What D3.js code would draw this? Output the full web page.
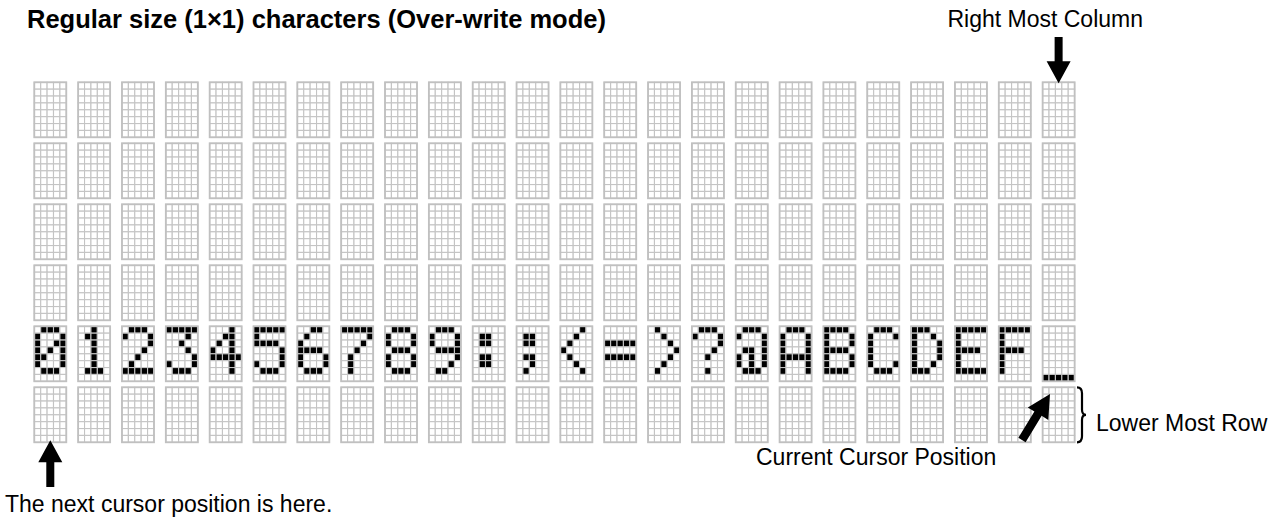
<!DOCTYPE html>
<html>
<head>
<meta charset="utf-8">
<script src="https://cdn.jsdelivr.net/npm/d3@7"></script>
<style>
  html, body { margin: 0; padding: 0; background: #ffffff; }
  svg { display: block; }
  text { font-family: "Liberation Sans", Arial, Helvetica, sans-serif; fill: #000; }
</style>
</head>
<body>
<svg id="chart" width="1288" height="519"></svg>
<script>
// ---- data ----
const titleText = "Regular size (1\u00d71) characters (Over-write mode)";
const numCols = 24;
const numRows = 6;
const charRow = 4;                 // row holding the written characters
const characters = ["0","1","2","3","4","5","6","7","8","9",":",";","<","=",">","?","@","A","B","C","D","E","F"];
// 5x7 glyph bitmaps (one hex value per dot row, 5 bits wide)
const glyphs = {
  "0": [0x0E,0x11,0x13,0x15,0x19,0x11,0x0E],
  "1": [0x04,0x0C,0x04,0x04,0x04,0x04,0x0E],
  "2": [0x0E,0x11,0x01,0x02,0x04,0x08,0x1F],
  "3": [0x1F,0x02,0x04,0x02,0x01,0x11,0x0E],
  "4": [0x02,0x06,0x0A,0x12,0x1F,0x02,0x02],
  "5": [0x1F,0x10,0x1E,0x01,0x01,0x11,0x0E],
  "6": [0x06,0x08,0x10,0x1E,0x11,0x11,0x0E],
  "7": [0x1F,0x01,0x02,0x04,0x08,0x08,0x08],
  "8": [0x0E,0x11,0x11,0x0E,0x11,0x11,0x0E],
  "9": [0x0E,0x11,0x11,0x0F,0x01,0x02,0x0C],
  ":": [0x00,0x0C,0x0C,0x00,0x0C,0x0C,0x00],
  ";": [0x00,0x0C,0x0C,0x00,0x0C,0x04,0x08],
  "<": [0x02,0x04,0x08,0x10,0x08,0x04,0x02],
  "=": [0x00,0x00,0x1F,0x00,0x1F,0x00,0x00],
  ">": [0x08,0x04,0x02,0x01,0x02,0x04,0x08],
  "?": [0x0E,0x11,0x01,0x02,0x04,0x00,0x04],
  "@": [0x0E,0x11,0x01,0x0D,0x15,0x15,0x0E],
  "A": [0x0E,0x11,0x11,0x11,0x1F,0x11,0x11],
  "B": [0x1E,0x11,0x11,0x1E,0x11,0x11,0x1E],
  "C": [0x0E,0x11,0x10,0x10,0x10,0x11,0x0E],
  "D": [0x1C,0x12,0x11,0x11,0x11,0x12,0x1C],
  "E": [0x1F,0x10,0x10,0x1E,0x10,0x10,0x1F],
  "F": [0x1F,0x10,0x10,0x1E,0x10,0x10,0x10]
};
const cursorCol = 23;              // current cursor position column (underscore)
const cursorGlyph = [0x00,0x00,0x00,0x00,0x00,0x00,0x00,0x1F];
const dotCols = 5;
const dotRows = 8;
const labels = {
  right: "Right Most Column",
  lower: "Lower Most Row",
  cursor: "Current Cursor Position",
  next: "The next cursor position is here."
};

// ---- layout ----
const svg = d3.select("#chart");
const cellW = 32, cellH = 55, pitchX = 43.84, pitchY = 61;
const x0 = 34.3, y0 = 82.3;
const x = d3.scaleBand().domain(d3.range(numCols))
  .range([x0, x0 + (numCols - 1) * pitchX + cellW])
  .paddingInner(1 - cellW / pitchX).paddingOuter(0).align(0);
const y = d3.scaleBand().domain(d3.range(numRows))
  .range([y0, y0 + (numRows - 1) * pitchY + cellH])
  .paddingInner(1 - cellH / pitchY).paddingOuter(0).align(0);
const dx = d3.scaleBand().domain(d3.range(dotCols)).range([0, x.bandwidth()]);
const dy = d3.scaleBand().domain(d3.range(dotRows)).range([0, y.bandwidth()]);

// cells
const cells = [];
for (let r = 0; r < numRows; r++) for (let c = 0; c < numCols; c++) {
  let bits = null;
  if (r === charRow && c < characters.length) bits = glyphs[characters[c]];
  if (r === charRow && c === cursorCol) bits = cursorGlyph;
  cells.push({ r, c, bits });
}

const g = svg.append("g");
const cell = g.selectAll("g.cell").data(cells).join("g")
  .attr("class", "cell")
  .attr("transform", d => `translate(${x(d.c)},${y(d.r)})`);

cell.each(function(d) {
  const dots = [];
  for (let rr = 0; rr < dotRows; rr++) for (let cc = 0; cc < dotCols; cc++) {
    const on = d.bits && d.bits[rr] !== undefined && ((d.bits[rr] >> (dotCols - 1 - cc)) & 1);
    dots.push({ rr, cc, on });
  }
  d3.select(this).selectAll("rect.dot").data(dots).join("rect")
    .attr("class", "dot")
    .attr("x", p => dx(p.cc))
    .attr("y", p => dy(p.rr))
    .attr("width", dx.bandwidth())
    .attr("height", dy.bandwidth())
    .attr("fill", p => p.on ? "#000" : "#fff")
    .attr("stroke", "#c4c4c4")
    .attr("stroke-width", 1.1);
  d3.select(this).append("rect")
    .attr("x", 0).attr("y", 0)
    .attr("width", x.bandwidth()).attr("height", y.bandwidth())
    .attr("fill", "none").attr("stroke", "#c0c0c0").attr("stroke-width", 1.8);
});

// ---- arrows ----
function arrowPath(x1, y1, x2, y2, shaftW, headW, headL) {
  const ang = Math.atan2(y2 - y1, x2 - x1);
  const len = Math.hypot(x2 - x1, y2 - y1);
  const pts = [
    [0, -shaftW / 2], [len - headL, -shaftW / 2], [len - headL, -headW / 2],
    [len, 0], [len - headL, headW / 2], [len - headL, shaftW / 2], [0, shaftW / 2]
  ];
  const c = Math.cos(ang), s = Math.sin(ang);
  return "M" + pts.map(p => [x1 + p[0] * c - p[1] * s, y1 + p[0] * s + p[1] * c].map(v => v.toFixed(2)).join(",")).join("L") + "Z";
}
const colMid = c => x(c) + x.bandwidth() / 2;
// right most column arrow (down)
svg.append("path").attr("d", arrowPath(colMid(cursorCol), 37, colMid(cursorCol), y(0) + 1, 8, 24, 22)).attr("fill", "#000");
// next cursor arrow (up)
svg.append("path").attr("d", arrowPath(colMid(0), 487, colMid(0), y(numRows - 1) + cellH - 2, 8, 24, 22)).attr("fill", "#000");
// current cursor arrow (diagonal)
svg.append("path").attr("d", arrowPath(1022, 440, 1050, 394, 8.5, 24, 23)).attr("fill", "#000");

// brace for lower most row
const by0 = y(numRows - 1), by1 = y(numRows - 1) + cellH, bm = (by0 + by1) / 2, bx = 1077;
svg.append("path")
  .attr("d", `M${bx},${by0} Q${bx + 5},${by0} ${bx + 5},${by0 + 6} L${bx + 5},${bm - 5} Q${bx + 5},${bm} ${bx + 9},${bm} Q${bx + 5},${bm} ${bx + 5},${bm + 5} L${bx + 5},${by1 - 6} Q${bx + 5},${by1} ${bx},${by1}`)
  .attr("fill", "none").attr("stroke", "#000").attr("stroke-width", 2.2);

// ---- texts ----
svg.append("text").attr("x", 27).attr("y", 28).attr("font-size", 25.5).attr("font-weight", "bold").text(titleText);
svg.append("text").attr("x", 1143).attr("y", 27).attr("text-anchor", "end").attr("font-size", 23).text(labels.right);
svg.append("text").attr("x", 1096).attr("y", 431).attr("font-size", 23).text(labels.lower);
svg.append("text").attr("x", 756).attr("y", 465).attr("font-size", 23).text(labels.cursor);
svg.append("text").attr("x", 5).attr("y", 512).attr("font-size", 23).text(labels.next);
</script>
</body>
</html>
